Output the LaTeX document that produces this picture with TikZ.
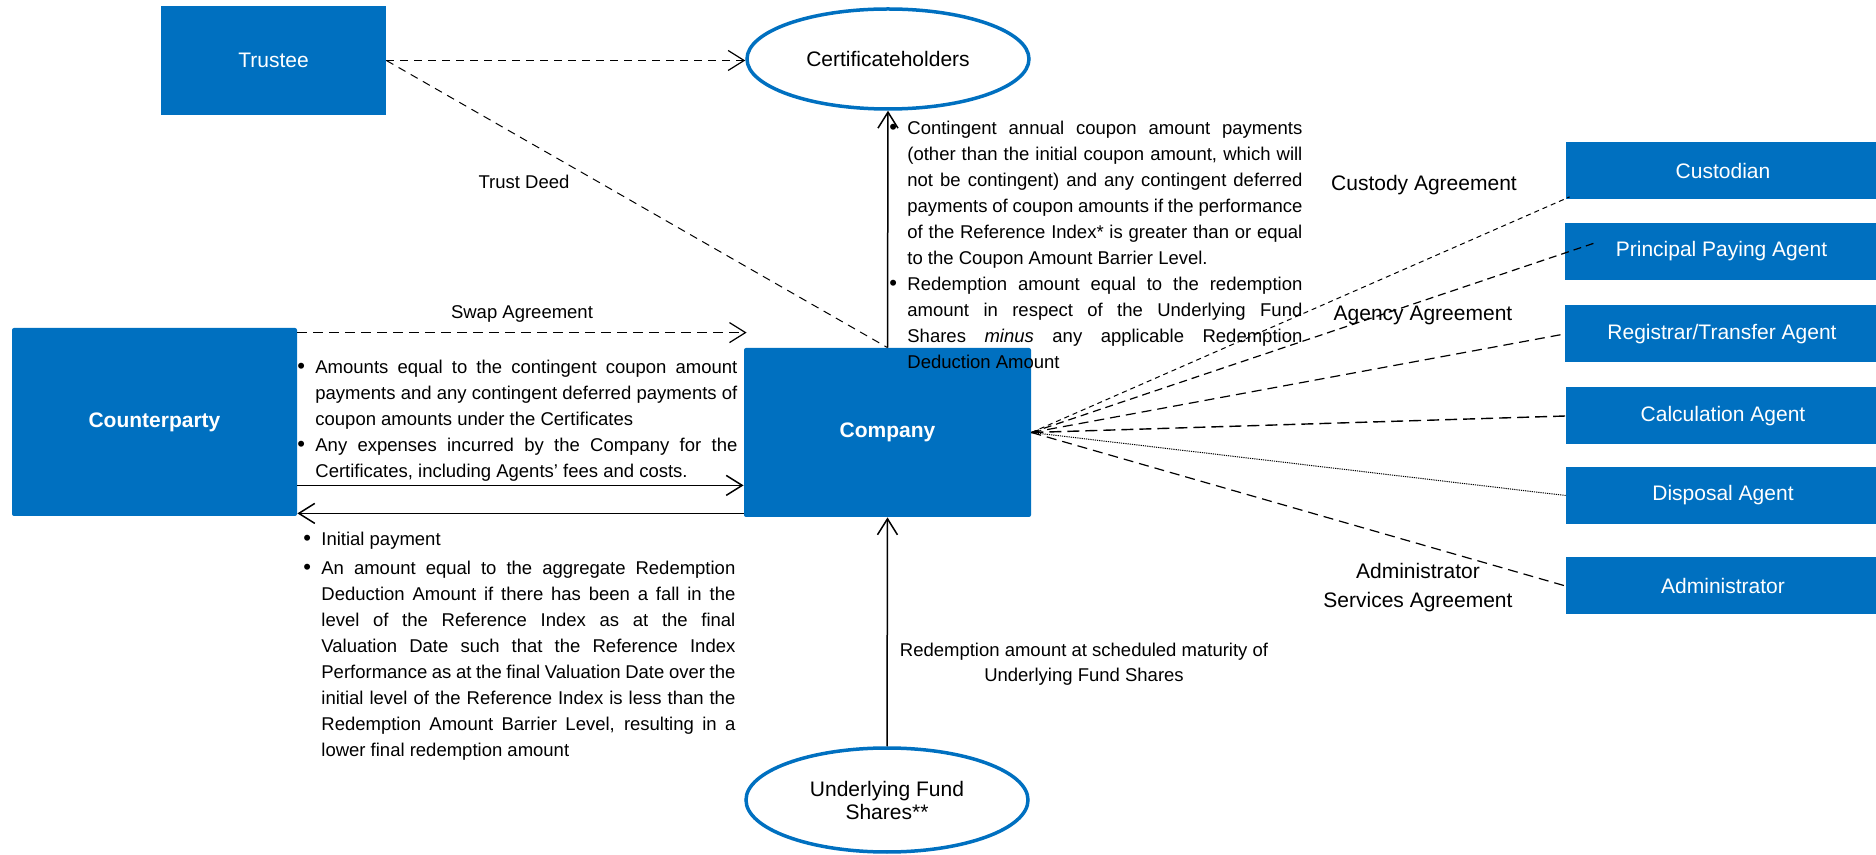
\documentclass[tikz,border=0pt]{standalone}
\usepackage{fontspec}
\setmainfont{Liberation Sans}
\usetikzlibrary{arrows.meta,shapes.geometric,calc}
\definecolor{boxblue}{RGB}{0,112,192}
\newcommand{\bitem}{\par\noindent\hangindent=9pt\hangafter=1\makebox[9pt][l]{\raisebox{-0.03em}{\fontsize{11pt}{13pt}\selectfont\textbullet}}\strut}
\tikzset{
  bluebox/.style={rectangle, fill=boxblue, text=white, inner sep=0pt, font=\fontsize{10.5pt}{12.6pt}\selectfont},
  agentbox/.style={bluebox, minimum width=157pt, minimum height=28.5pt},
  oval/.style={ellipse, draw=boxblue, line width=1.75pt, fill=white, inner sep=0pt, align=center, font=\fontsize{10.5pt}{11.5pt}\selectfont},
  bodytxt/.style={inner sep=0pt, font=\fontsize{9.25pt}{13pt}\selectfont},
  bigtxt/.style={inner sep=0pt, align=center, font=\fontsize{10.5pt}{14.5pt}\selectfont},
  bullets/.style={bodytxt, anchor=north west, align=justify},
  conn/.style={line width=0.75pt, -{Straight Barb[length=8pt,width=10pt]}},
  dconn/.style={line width=0.6pt, dash pattern=on 4pt off 3pt},
}
\begin{document}
\begin{tikzpicture}[x=0.5pt,y=-0.5pt]
\useasboundingbox (0,0) rectangle (1876,855);
% nodes
\node[bluebox, minimum width=112.5pt, minimum height=54.5pt] (tr) at (273.5,60.5) {Trustee};
\node[oval, minimum width=141pt, minimum height=50pt] (ch) at (888,59) {Certificateholders};
\node[bluebox, minimum width=142.5pt, minimum height=94pt, rounded corners=1pt, font=\fontsize{10.5pt}{12.6pt}\selectfont\bfseries] (cp) at (154.5,422) {Counterparty};
\node[bluebox, minimum width=143.5pt, minimum height=84.5pt, rounded corners=1pt, font=\fontsize{10.5pt}{12.6pt}\selectfont\bfseries] (co) at (887.5,432.5) {Company};
\node[oval, minimum width=141pt, minimum height=52pt] (uf) at (887,800) {Underlying Fund\\Shares**};
\node[agentbox] (cu) at (1723,171) {Custodian};
\node[agentbox] (pp) at (1721.5,251.5) {Principal Paying Agent};
\node[agentbox] (rt) at (1722,334) {Registrar/Transfer Agent};
\node[agentbox] (ca) at (1723,416) {Calculation Agent};
\node[agentbox] (di) at (1723,495.5) {Disposal Agent};
\node[agentbox] (ad) at (1723,586) {Administrator};
% connectors
\draw[dconn, -{Straight Barb[length=8pt,width=10pt]}] (tr.east) -- (tr.east -| ch.west);
\draw[line width=0.5pt, dash pattern=on 4pt off 3pt] (tr.east) -- (co.north);
\draw[conn] (co.north) -- (ch.south);
\draw[conn] (uf.north) -- (co.south);
\draw[dconn, dash pattern=on 5pt off 3pt, -{Straight Barb[length=8pt,width=10pt]}] ($(cp.north east)+(0,5)$) coordinate (sw) -- ($(sw -| co.west)+(3,0)$);
\draw[conn] ($(cp.south east)+(0,-31)$) coordinate (p1) -- (p1 -| co.west);
\draw[conn] ($(co.south west)+(0,-4)$) coordinate (p2) -- (p2 -| cp.east);
\draw[line width=0.5pt, dash pattern=on 2.5pt off 2pt] (co.east) -- ($(cu.south west)+(4,-3)$);
\draw[line width=0.6pt, dash pattern=on 4pt off 2.5pt] (co.east) -- ($(pp.west)+(32,-9)$);
\draw[line width=0.6pt, dash pattern=on 5pt off 3pt] (co.east) -- (rt.west);
\draw[line width=0.7pt, dash pattern=on 6pt off 3pt] (co.east) -- (ca.west);
\draw[line width=0.5pt, dash pattern=on 0.6pt off 0.5pt] (co.east) -- (di.west);
\draw[line width=0.6pt, dash pattern=on 5pt off 3pt] (co.east) -- (ad.west);
% labels
\node[bodytxt] (ltd) at (524,182) {Trust Deed};
\node[bodytxt] (lsw) at (522,314) {Swap Agreement};
\node[bigtxt] (lcu) at (1424,185) {Custody Agreement};
\node[bigtxt] (lag) at (1423,315) {Agency Agreement};
\node[bigtxt] (lad) at (1418,587.5) {Administrator\\Services Agreement};
\node[bodytxt, align=center, font=\fontsize{9.25pt}{12.5pt}\selectfont] (lrd) at (1084,664.5) {Redemption amount at scheduled maturity of\\Underlying Fund Shares};
% bullet blocks
\node[bullets, text width=206.5pt] (b3) at (889,108) {\hbadness=10000
\bitem Contingent annual coupon amount payments\linebreak
(other than the initial coupon amount, which will\linebreak
not be contingent) and any contingent deferred\linebreak
payments of coupon amounts if the performance\linebreak
of the Reference Index* is greater than or equal\linebreak
to the Coupon Amount Barrier Level.
\bitem Redemption amount equal to the redemption\linebreak
amount in respect of the Underlying Fund\linebreak
Shares \textit{minus} any applicable Redemption\linebreak
Deduction Amount\par};
\node[bullets, text width=220pt] (b1) at (297,347) {\hbadness=10000
\bitem Amounts equal to the contingent coupon amount\linebreak
payments and any contingent deferred payments of\linebreak
coupon amounts under the Certificates
\bitem Any expenses incurred by the Company for the\linebreak
Certificates, including Agents’ fees and costs.\par};
\node[bullets, text width=216pt] (b2) at (303,516) {\hbadness=10000\parskip=1.5pt
\bitem Initial payment
\bitem An amount equal to the aggregate Redemption\linebreak
Deduction Amount if there has been a fall in the\linebreak
level of the Reference Index as at the final\linebreak
Valuation Date such that the Reference Index\linebreak
Performance as at the final Valuation Date over the\linebreak
initial level of the Reference Index is less than the\linebreak
Redemption Amount Barrier Level, resulting in a\linebreak
lower final redemption amount\par};
\end{tikzpicture}
\end{document}
